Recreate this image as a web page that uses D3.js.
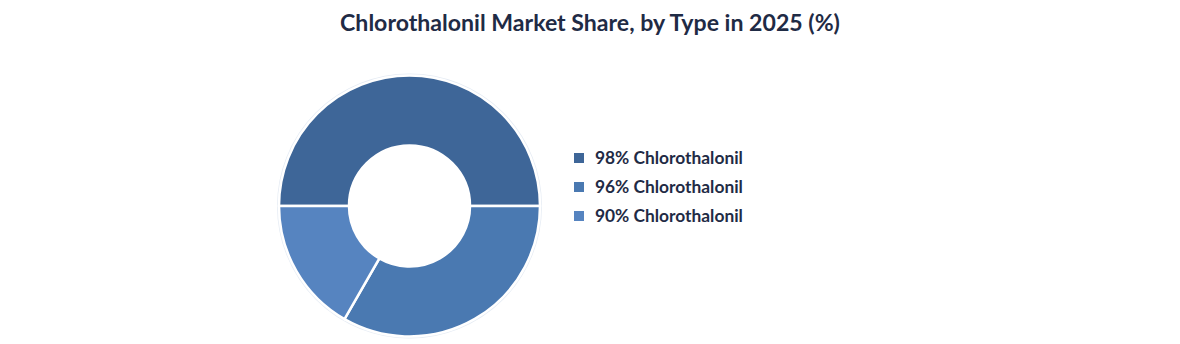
<!DOCTYPE html>
<html><head><meta charset="utf-8">
<script src="https://cdn.jsdelivr.net/npm/d3@7"></script>
<style>body{margin:0;background:#fff;} text{font-family:"Lato","DejaVu Sans",sans-serif;font-weight:bold;}</style>
</head><body>
<svg id="c" width="1180" height="344"></svg>
<script>
const title = "Chlorothalonil Market Share, by Type in 2025 (%)";
const categories = ["98% Chlorothalonil", "96% Chlorothalonil", "90% Chlorothalonil"];
const shares = [50, 33.3, 16.7];
const colors = ["#3e6698", "#4a79b1", "#5684c0"];

const svg = d3.select("#c");
const t = svg.append("text").attr("x", 590).attr("y", 31).attr("text-anchor", "middle")
  .attr("fill", "#1f2b45").attr("font-size", 20).text(title);
const tw = t.node().getComputedTextLength();
t.attr("font-size", 20 * 500 / tw);

const cx = 409.5, cy = 206, R = 130.5, r = 60.5;
const pie = d3.pie().sort(null).startAngle(-Math.PI/2).endAngle(1.5*Math.PI);
const arc = d3.arc().innerRadius(r).outerRadius(R);
const g = svg.append("g").attr("transform", `translate(${cx},${cy})`);
g.append("circle").attr("r", R + 1).attr("fill", "none").attr("stroke", "#e6ecf4").attr("stroke-width", 2);
g.selectAll("path").data(pie(shares)).join("path")
  .attr("d", arc).attr("fill", (d, i) => colors[i])
  .attr("stroke", "#fff").attr("stroke-width", 2.5);

const y = d3.scalePoint().domain(categories).range([158, 216]);
const lg = svg.append("g");
categories.forEach((c, i) => {
  lg.append("rect").attr("x", 574).attr("y", y(c) - 5).attr("width", 10).attr("height", 10).attr("fill", colors[i]);
  const tt = lg.append("text").attr("x", 595).attr("y", y(c) + 5.5).attr("fill", "#1f2b45").attr("font-size", 15).text(c);
  const w = tt.node().getComputedTextLength();
  tt.attr("font-size", 15 * 148 / w);
});
</script>
</body></html>
